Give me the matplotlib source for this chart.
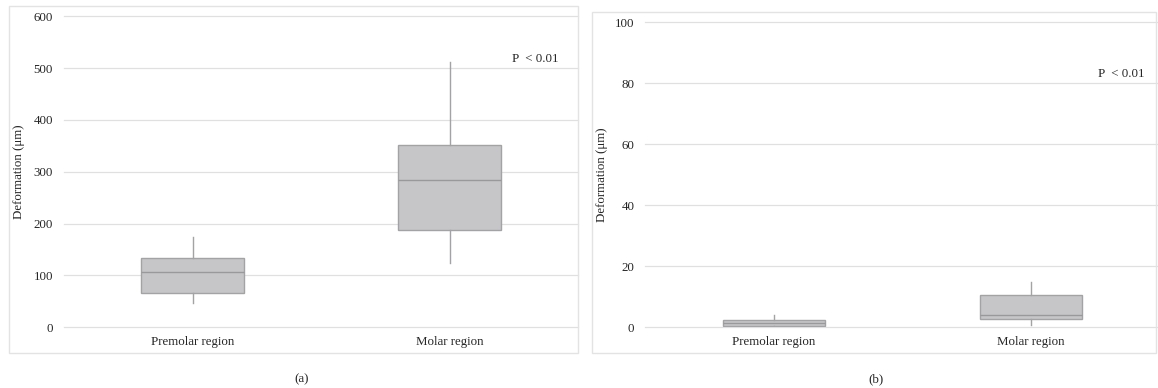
import matplotlib
matplotlib.use('Agg')
import matplotlib.pyplot as plt
from matplotlib.patches import Rectangle

# Data
categories = ['Premolar region', 'Molar region']

# panel (a)
a_whislo = [47.6, 125.0]
a_q1 = [65.6, 188.0]
a_med = [106.0, 283.6]
a_q3 = [133.0, 351.0]
a_whishi = [174.0, 512.0]
a_ticks = [0, 100, 200, 300, 400, 500, 600]

# panel (b)
b_whislo = [0.0, 0.8]
b_q1 = [0.45, 2.6]
b_med = [1.3, 4.0]
b_q3 = [2.3, 10.5]
b_whishi = [4.0, 15.0]
b_ticks = [0, 20, 40, 60, 80, 100]

p_text = 'P  < 0.01'

plt.rcParams['font.family'] = ['Liberation Serif', 'DejaVu Serif']

BOX_FILL = '#c6c5c7'
BOX_EDGE = '#a3a2a5'
GRID = '#e0e0e0'
TEXT = '#262626'
FS = 9.3


def draw_panel(ax, whislo, q1, med, q3, whishi, ticks, ylabel_x, p_pos):
    stats = []
    for i in range(len(categories)):
        stats.append(dict(whislo=whislo[i], q1=q1[i], med=med[i],
                          q3=q3[i], whishi=whishi[i], fliers=[]))
    ax.bxp(stats, positions=range(len(categories)), widths=0.4,
           patch_artist=True, showcaps=False, showfliers=False,
           boxprops=dict(facecolor=BOX_FILL, edgecolor=BOX_EDGE, linewidth=1.0),
           medianprops=dict(color='#99989b', linewidth=1.0),
           whiskerprops=dict(color=BOX_EDGE, linewidth=1.0))
    ax.set_xlim(-0.5, len(categories) - 0.5)
    ax.set_ylim(ticks[0], ticks[-1])
    ax.set_yticks(ticks)
    ax.set_xticks(range(len(categories)))
    ax.set_xticklabels(categories)
    ax.grid(True, axis='y', color=GRID, linewidth=0.9)
    for gl in ax.get_ygridlines():
        gl.set_clip_on(False)
    ax.set_axisbelow(True)
    for s in ax.spines.values():
        s.set_visible(False)
    ax.tick_params(axis='both', length=0, labelsize=FS, colors=TEXT)
    ax.tick_params(axis='y', pad=8)
    ax.tick_params(axis='x', pad=6)
    ax.set_ylabel('Deformation (μm)', fontsize=FS, color=TEXT)
    ax.yaxis.set_label_coords(ylabel_x, 0.5)
    ax.text(p_pos[0], p_pos[1], p_text, ha='center', va='center',
            fontsize=FS, color=TEXT)


fig = plt.figure(figsize=(11.58, 3.88), dpi=100)

# panel frames
fig.patches.append(Rectangle((9 / 1158, 35 / 388), 569 / 1158, 347 / 388,
                             transform=fig.transFigure, fill=False,
                             edgecolor='#e3e3e3', linewidth=1.0))
fig.patches.append(Rectangle((592 / 1158, 35.3 / 388), 564 / 1158, 341 / 388,
                             transform=fig.transFigure, fill=False,
                             edgecolor='#e3e3e3', linewidth=1.0))

ax1 = fig.add_axes([64 / 1158, 60.7 / 388, 514 / 1158, 311 / 388])
ax2 = fig.add_axes([645.5 / 1158, 60.7 / 388, 514 / 1158, 305 / 388])

draw_panel(ax1, a_whislo, a_q1, a_med, a_q3, a_whishi, a_ticks,
           (25 - 64) / 514, (1.333, 518))
draw_panel(ax2, b_whislo, b_q1, b_med, b_q3, b_whishi, b_ticks,
           (608.5 - 645.5) / 514, (1.35, 83))

fig.text(301.5 / 1158, 1 - 379 / 388, '(a)', ha='center', va='center',
         fontsize=FS, color=TEXT)
fig.text(876 / 1158, 1 - 379 / 388, '(b)', ha='center', va='center',
         fontsize=FS, color=TEXT)

fig.savefig('out.png', dpi=100)
